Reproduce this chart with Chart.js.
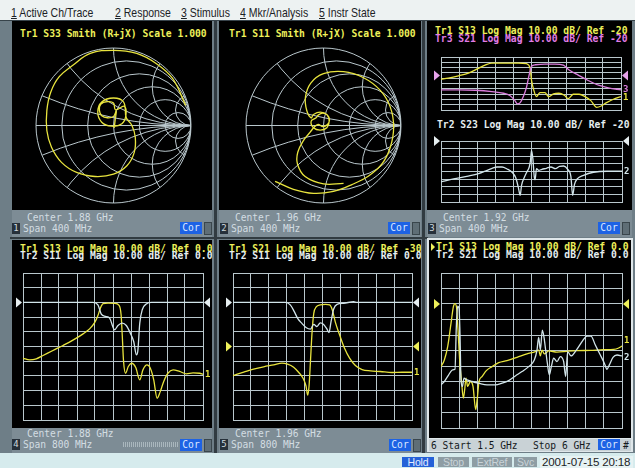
<!DOCTYPE html>
<html>
<head>
<meta charset="utf-8">
<script src="https://cdn.jsdelivr.net/npm/chart.js@4/dist/chart.umd.min.js"></script>
<style>
html,body{margin:0;padding:0;}
body{width:635px;height:468px;position:relative;overflow:hidden;background:#6e7e87;font-family:'DejaVu Sans Mono',monospace;}
.a{position:absolute;}
#menu{left:0;top:0;width:635px;height:20px;background:#edf2f2;border-bottom:1px solid #37434a;font-family:'Liberation Sans',Arial,sans-serif;font-size:12.2px;color:#1c2226;}
.mi{position:absolute;top:7px;line-height:12px;white-space:nowrap;transform:scaleX(0.86);transform-origin:0 0;}
.blk{position:absolute;background:#000;overflow:hidden;}
.t{position:absolute;white-space:nowrap;font-size:9.7px;line-height:8px;font-weight:bold;}
.foot{position:absolute;background:#7d8c95;overflow:hidden;}
.ft{position:absolute;white-space:nowrap;font-size:9.6px;line-height:8px;color:#d3dde2;}
.num{position:absolute;width:8px;height:11px;background:#26303a;color:#cfd9de;font-size:9px;line-height:11px;text-align:center;}
.cor{position:absolute;width:22px;height:12px;background:#1d62e4;color:#dce8ff;font-size:9.6px;line-height:12px;text-align:center;}
.sq{position:absolute;width:6px;height:11px;background:#5f6e76;border:1px solid #3a464c;}
.sep{position:absolute;background:#313b41;}
#status{left:0;top:453px;width:635px;height:15px;background:#d6ebed;font-family:'Liberation Sans',Arial,sans-serif;}
.sb{position:absolute;top:4px;height:10px;font-size:10.5px;line-height:10px;text-align:center;letter-spacing:-0.2px;}
canvas{position:absolute;}
</style>
</head>
<body>
<div id="menu" class="a">
  <span class="mi" style="left:11px"><u>1</u> Active Ch/Trace</span>
  <span class="mi" style="left:115px"><u>2</u> Response</span>
  <span class="mi" style="left:181px"><u>3</u> Stimulus</span>
  <span class="mi" style="left:240px"><u>4</u> Mkr/Analysis</span>
  <span class="mi" style="left:319px"><u>5</u> Instr State</span>
</div>

<!-- frame separators -->
<div class="sep" style="left:214px;top:21px;width:3px;height:432px"></div>
<div class="sep" style="left:422px;top:21px;width:3px;height:432px"></div>
<div class="sep" style="left:10px;top:237px;width:418px;height:2px"></div>

<!-- channel 1 -->
<div class="blk" style="left:12px;top:21px;width:200px;height:189px">
  <div class="t" style="left:8px;top:9px;color:#eef05a">Tr1 S33 Smith (R+jX) Scale 1.000</div>
</div>
<div class="foot" style="left:12px;top:210px;width:200px;height:27px">
  <div class="ft" style="left:15px;top:4px">Center 1.88 GHz</div>
  <div class="num" style="left:0;top:13px">1</div>
  <div class="ft" style="left:11px;top:15px">Span 400 MHz</div>
  <div class="cor" style="left:168px;top:12px">Cor</div>
  <div class="sq" style="left:192px;top:12px"></div>
</div>

<!-- channel 2 -->
<div class="blk" style="left:219px;top:21px;width:202px;height:189px">
  <div class="t" style="left:10px;top:9px;color:#eef05a">Tr1 S11 Smith (R+jX) Scale 1.000</div>
</div>
<div class="foot" style="left:219px;top:210px;width:202px;height:27px">
  <div class="ft" style="left:16px;top:4px">Center 1.96 GHz</div>
  <div class="num" style="left:1px;top:13px">2</div>
  <div class="ft" style="left:12px;top:15px">Span 400 MHz</div>
  <div class="cor" style="left:169px;top:12px">Cor</div>
  <div class="sq" style="left:193px;top:12px"></div>
</div>

<!-- channel 3 -->
<div class="blk" style="left:427px;top:21px;width:205px;height:189px">
  <div class="t" style="left:8px;top:6px;color:#eef05a">Tr1 S13 Log Mag 10.00 dB/ Ref -20</div>
  <div class="t" style="left:8px;top:13.5px;color:#e27ce6">Tr3 S21 Log Mag 10.00 dB/ Ref -20</div>
  <div class="t" style="left:10px;top:100px;color:#e6eef0">Tr2 S23 Log Mag 10.00 dB/ Ref -20</div>
</div>
<div class="foot" style="left:427px;top:210px;width:205px;height:27px">
  <div class="ft" style="left:16px;top:4px">Center 1.92 GHz</div>
  <div class="num" style="left:1px;top:13px">3</div>
  <div class="ft" style="left:12px;top:15px">Span 400 MHz</div>
  <div class="cor" style="left:171px;top:12px">Cor</div>
  <div class="sq" style="left:195px;top:12px"></div>
</div>

<!-- channel 4 -->
<div class="blk" style="left:12px;top:240px;width:200px;height:188px">
  <div class="t" style="left:8px;top:4.5px;color:#eef05a">Tr1 S13 Log Mag 10.00 dB/ Ref 0.0</div>
  <div class="t" style="left:8px;top:12.2px;color:#e6eef0">Tr2 S11 Log Mag 10.00 dB/ Ref 0.0</div>
</div>
<div class="foot" style="left:12px;top:428px;width:200px;height:25px">
  <div class="ft" style="left:15px;top:2px">Center 1.88 GHz</div>
  <div class="num" style="left:0;top:11px">4</div>
  <div class="ft" style="left:11px;top:12.5px">Span 800 MHz</div>
  <div class="a" style="left:111px;top:14px;width:55px;height:5px;background:repeating-linear-gradient(90deg,#aab7bd 0 1px,transparent 1px 2px)"></div>
  <div class="cor" style="left:168px;top:11px">Cor</div>
  <div class="sq" style="left:192px;top:11px"></div>
</div>

<!-- channel 5 -->
<div class="blk" style="left:219px;top:240px;width:202px;height:188px">
  <div class="t" style="left:10px;top:4.5px;color:#eef05a">Tr1 S21 Log Mag 10.00 dB/ Ref -30</div>
  <div class="t" style="left:10px;top:12.2px;color:#e6eef0">Tr2 S11 Log Mag 10.00 dB/ Ref 0.0</div>
</div>
<div class="foot" style="left:219px;top:428px;width:202px;height:25px">
  <div class="ft" style="left:16px;top:2px">Center 1.96 GHz</div>
  <div class="num" style="left:1px;top:11px">5</div>
  <div class="ft" style="left:12px;top:12.5px">Span 800 MHz</div>
  <div class="cor" style="left:170px;top:11px">Cor</div>
  <div class="sq" style="left:194px;top:11px"></div>
</div>

<!-- channel 6 (active) -->
<div class="a" style="left:427px;top:238px;width:206px;height:214px;background:#dfe7ea"></div>
<div class="blk" style="left:429px;top:240px;width:202px;height:198px">
  <div class="a" style="left:2px;top:3px;width:0;height:0;border-top:4px solid transparent;border-bottom:4px solid transparent;border-left:4px solid #eef05a"></div>
  <div class="t" style="left:7px;top:3px;color:#eef05a">Tr1 S13 Log Mag 10.00 dB/ Ref 0.0</div>
  <div class="t" style="left:7px;top:11.2px;color:#e6eef0">Tr2 S21 Log Mag 10.00 dB/ Ref 0.0</div>
</div>
<div class="a" style="left:429px;top:439px;width:202px;height:12px;background:#c9d2d6;overflow:hidden">
  <div class="ft" style="left:2px;top:2.5px;color:#15191c">6 Start 1.5 GHz</div>
  <div class="ft" style="left:104px;top:2.5px;color:#15191c">Stop 6 GHz</div>
  <div class="cor" style="left:169px;top:0;height:11px;line-height:11px">Cor</div>
  <div class="ft" style="left:194px;top:2.5px;color:#15191c">#</div>
</div>

<div id="status" class="a">
  <div class="sb" style="left:402px;width:32px;background:#2461d8;color:#e2ebff">Hold</div>
  <div class="sb" style="left:438px;width:31px;background:#8e9da4;color:#c9d3d8">Stop</div>
  <div class="sb" style="left:472px;width:40px;background:#8e9da4;color:#c9d3d8">ExtRef</div>
  <div class="sb" style="left:514px;width:23px;background:#8e9da4;color:#c9d3d8">Svc</div>
  <div class="sb" style="left:540px;width:93px;top:3px;height:12px;line-height:12px;font-size:11.6px;color:#1d2326;background:#e6f2f3;text-align:left;padding-left:2px;box-sizing:border-box">2001-07-15 20:18</div>
</div>

<canvas id="ch1" width="161" height="161" style="left:33px;top:45px"></canvas>
<canvas id="ch2" width="161" height="161" style="left:243px;top:45px"></canvas>
<canvas id="ch3a" width="203" height="76" style="left:428px;top:42px"></canvas>
<canvas id="ch3b" width="203" height="80" style="left:428px;top:130px"></canvas>
<canvas id="ch4" width="200" height="166" style="left:12px;top:262px"></canvas>
<canvas id="ch5" width="202" height="166" style="left:219px;top:262px"></canvas>
<canvas id="ch6" width="202" height="176" style="left:429px;top:262px"></canvas>

<script>
// ---- Stimulus settings (GHz) ----
const ch3Center = 1.92, ch3Span = 0.4;
const ch4Center = 1.88, ch4Span = 0.8;
const ch5Center = 1.96, ch5Span = 0.8;
const ch6Start = 1.5, ch6Stop = 6.0;

// ---- Channel 1: S33 on Smith chart (reflection coefficient, real / imaginary) ----
const s33Re = [0.931,0.76,0.55,0.30,0.00,-0.30,-0.52,-0.70,-0.81,-0.86,-0.86,-0.80,-0.671,-0.476,-0.238,0.000,0.173,0.268,0.281,0.238,0.165,
  0.130,0.000,-0.152,-0.203,-0.152,-0.022,0.108,0.160,0.139,
  0.026,0.000,-0.078,-0.165,-0.182,-0.152,-0.078,0.000,0.035,0.022,0.009];
const s33Im = [0.260,0.61,0.80,0.93,0.97,0.93,0.78,0.63,0.43,0.195,-0.065,-0.281,-0.476,-0.606,-0.658,-0.628,-0.519,-0.346,-0.152,0.000,0.100,
  0.303,0.355,0.303,0.173,0.043,-0.009,0.022,0.130,0.247,
  0.203,0.290,0.307,0.273,0.195,0.126,0.100,0.117,0.186,0.074,-0.030];

// ---- Channel 2: S11 on Smith chart ----
const s11SmithRe = [-0.625,-0.388,-0.129,0.129,0.366,0.582,0.754,0.862,0.905,0.862,0.733,0.517,0.259,0.000,-0.164,-0.233,-0.216,-0.159,
  -0.129,-0.043,0.043,0.073,0.043,-0.043,-0.129,-0.159,
  -0.095,-0.069,-0.009,0.052,0.078,0.052,-0.009,-0.069,-0.121,-0.172,-0.259,-0.332,-0.336,-0.237,0.000,0.259];
const s11SmithIm = [-0.720,-0.823,-0.875,-0.849,-0.763,-0.651,-0.496,-0.280,-0.022,0.237,0.453,0.616,0.694,0.668,0.547,0.366,0.194,0.099,
  0.142,0.172,0.142,0.056,-0.030,-0.060,-0.030,0.056,
  0.099,0.134,0.159,0.134,0.073,0.013,-0.013,0.013,-0.022,-0.086,-0.194,-0.345,-0.496,-0.659,-0.754,-0.746];

// ---- Channel 3: log magnitude (GHz / dB) ----
const ch3FreqS13 = [1.720,1.736,1.759,1.781,1.803,1.818,1.833,1.862,1.892,1.910,1.918,1.921,1.926,1.932,1.940,1.951,1.959,1.970,1.982,1.994,2.003,2.014,2.027,2.040,2.053,2.066,2.076,2.088,2.103,2.120];
const ch3S13 = [-26.8,-24.9,-20.4,-15.4,-6.5,-0.2,3.6,3.6,3.6,2.3,-5.9,-28.0,-47.0,-59.7,-52.1,-52.1,-59.7,-54.6,-53.4,-57.2,-63.5,-55.3,-55.3,-59.7,-67.3,-79.9,-77.4,-71.1,-64.7,-59.7];
const ch3FreqS21 = [1.720,1.759,1.796,1.833,1.859,1.873,1.883,1.890,1.896,1.903,1.910,1.916,1.921,1.930,1.951,1.973,1.992,2.004,2.025,2.047,2.070,2.092,2.120];
const ch3S21 = [-47.0,-47.0,-47.7,-50.2,-53.4,-57.8,-66.0,-73.6,-71.1,-59.7,-42.0,-18.5,-2.7,0.4,1.7,1.7,-0.2,-9.1,-19.2,-29.3,-38.2,-43.2,-47.0];
const ch3FreqS23 = [1.720,1.748,1.777,1.803,1.822,1.833,1.844,1.855,1.866,1.877,1.885,1.891,1.895,1.898,1.904,1.910,1.915,1.918,1.920,1.923,1.926,1.928,1.931,1.936,1.943,1.953,1.963,1.973,1.982,1.991,2.000,2.007,2.011,2.015,2.021,2.035,2.057,2.087,2.120];
const ch3S23 = [-73.7,-69.8,-66.3,-62.8,-58.4,-55.8,-54.1,-54.1,-56.7,-61.0,-68.0,-81.1,-91.2,-78.1,-68.0,-60.2,-54.1,-44.5,-32.2,-43.1,-66.3,-70.7,-56.2,-58.4,-57.1,-55.8,-54.1,-56.2,-53.2,-52.8,-57.1,-66.3,-91.2,-76.8,-69.8,-65.0,-61.0,-59.7,-59.7];

// ---- Channel 4 ----
const ch4FreqS13 = [1.480,1.510,1.539,1.569,1.613,1.658,1.702,1.747,1.776,1.799,1.813,1.824,1.836,1.858,1.887,1.907,1.916,1.921,1.927,1.936,1.948,1.963,1.981,1.999,2.013,2.031,2.046,2.061,2.076,2.090,2.105,2.124,2.147,2.176,2.206,2.236,2.265,2.280];
const ch4S13 = [-38.0,-39.1,-38.4,-36.1,-32.7,-29.3,-25.7,-21.4,-18.0,-13.6,-8.9,-3.9,-0.9,-0.5,-0.7,-2.0,-8.4,-22.0,-40.2,-48.2,-43.6,-41.4,-44.3,-52.7,-45.9,-42.5,-44.8,-52.7,-65.2,-60.7,-53.9,-48.2,-45.9,-47.0,-48.6,-48.0,-48.2,-48.9];
const ch4FreqS11 = [1.480,1.791,1.813,1.828,1.847,1.865,1.887,1.902,1.921,1.939,1.957,1.972,1.984,1.990,1.999,2.010,2.028,2.050,2.280];
const ch4S11 = [0.0,0.0,-1.6,-8.0,-9.5,-10.7,-18.6,-15.7,-14.1,-15.7,-20.9,-26.6,-35.7,-33.4,-14.1,-5.0,-1.1,0.0,0.0];

// ---- Channel 5 ----
const ch5FreqS21 = [1.560,1.608,1.652,1.697,1.742,1.779,1.804,1.831,1.853,1.873,1.886,1.894,1.900,1.906,1.913,1.921,1.932,1.950,1.973,1.992,2.004,2.017,2.037,2.058,2.081,2.107,2.137,2.174,2.218,2.271,2.315,2.360];
const ch5S21 = [-49.8,-47.5,-45.4,-43.8,-42.5,-41.3,-42.0,-44.1,-47.5,-51.6,-56.7,-63.1,-56.7,-40.6,-21.2,-7.5,-3.1,-1.7,-1.3,-1.7,-5.2,-13.2,-22.3,-31.0,-37.9,-42.9,-45.7,-46.6,-47.0,-47.7,-47.5,-47.5];
const ch5FreqS11 = [1.560,1.794,1.816,1.834,1.849,1.868,1.888,1.906,1.921,1.935,1.950,1.965,1.980,1.989,1.998,2.010,2.025,2.055,2.099,2.114,2.360];
const ch5S11 = [0.0,0.0,-1.7,-6.3,-10.9,-14.3,-17.3,-18.2,-15.0,-16.4,-13.9,-15.0,-18.2,-20.5,-13.2,-4.5,-1.3,-0.6,0.5,0.0,0.0];

// ---- Channel 6 ----
const ch6FreqS13 = [1.500,1.583,1.666,1.749,1.807,1.848,1.890,1.923,1.964,2.014,2.055,2.088,2.122,2.163,2.229,2.296,2.362,2.403,2.445,2.519,2.627,2.768,2.934,3.141,3.390,3.638,3.845,3.928,3.970,4.011,4.069,4.177,4.384,4.633,4.881,5.213,5.544,5.793,5.917,6.000];
const ch6S13 = [-40.4,-36.1,-27.5,-12.5,-1.8,0.3,-2.9,-16.8,-36.1,-51.1,-60.7,-55.4,-47.9,-53.2,-50.0,-53.2,-68.2,-60.7,-50.0,-46.8,-43.0,-40.4,-37.8,-36.5,-34.4,-32.2,-30.7,-29.7,-33.5,-29.7,-32.2,-30.3,-31.0,-30.5,-30.1,-29.9,-29.5,-29.3,-28.4,-27.1];
const ch6FreqS21 = [1.500,1.583,1.691,1.790,1.848,1.881,1.914,1.948,1.972,1.997,2.030,2.072,2.146,2.271,2.436,2.644,2.851,3.017,3.182,3.348,3.514,3.680,3.820,3.887,3.928,3.970,4.019,4.061,4.102,4.144,4.193,4.243,4.301,4.384,4.467,4.550,4.599,4.649,4.732,4.865,5.006,5.130,5.229,5.337,5.461,5.561,5.627,5.685,5.776,5.876,6.000];
const ch6S21 = [-52.2,-50.0,-45.7,-42.5,-42.1,-14.7,-1.4,-2.9,-19.0,-49.0,-53.2,-47.9,-49.0,-50.0,-51.1,-52.2,-52.2,-51.1,-49.4,-46.4,-43.6,-40.4,-36.1,-29.7,-21.5,-29.7,-16.8,-21.5,-29.7,-38.2,-45.7,-40.4,-35.0,-37.2,-33.9,-37.2,-46.8,-30.7,-33.5,-29.7,-24.3,-20.7,-20.7,-26.5,-32.9,-38.2,-42.1,-39.3,-34.4,-32.9,-33.5];

// ---- Smith chart grid values ----
const smithResistance = [0.2, 0.5, 1, 2, 5];
const smithReactance = [0.2, 0.5, 1, 2, 5];

// ---- Colours ----
const YELLOW = '#e8e43e', WHITE = '#d2e5ea', MAGENTA = '#da7cdc', GRID = '#b9c7cc';

function divisions(lo, hi, n) {
  const out = [];
  for (let i = 0; i <= n; i++) out.push({ value: lo + (hi - lo) * i / n });
  return out;
}

// Reference-level triangles and trace-number labels beside the graticule
const traceMarks = {
  id: 'traceMarks',
  afterDatasetsDraw(chart, args, o) {
    const { ctx, chartArea: a, scales: { y } } = chart;
    ctx.save();
    (o.refs || []).forEach(m => {
      const py = y.getPixelForValue(m.value);
      ctx.fillStyle = m.color;
      ctx.beginPath(); ctx.moveTo(a.left - 7, py - 5); ctx.lineTo(a.left - 1, py); ctx.lineTo(a.left - 7, py + 5); ctx.closePath(); ctx.fill();
      ctx.beginPath(); ctx.moveTo(a.right + 7, py - 5); ctx.lineTo(a.right + 1, py); ctx.lineTo(a.right + 7, py + 5); ctx.closePath(); ctx.fill();
    });
    (o.labels || []).forEach(l => {
      const d = chart.data.datasets[l.dataset].data;
      const py = y.getPixelForValue(d[d.length - 1].y) + (l.dy || 0);
      ctx.fillStyle = l.color;
      ctx.font = 'bold 9px "DejaVu Sans Mono"';
      ctx.textBaseline = 'middle';
      ctx.fillText(l.text, a.right + 2, py);
    });
    ctx.restore();
  }
};

function logMagChart(id, cfg) {
  const axis = (lo, hi, n) => ({
    type: 'linear', min: lo, max: hi,
    ticks: { display: false },
    grid: { color: GRID, lineWidth: 1, drawTicks: false },
    border: { color: GRID },
    afterBuildTicks: s => { s.ticks = divisions(lo, hi, n); }
  });
  return new Chart(document.getElementById(id), {
    type: 'line',
    data: {
      datasets: cfg.traces.map(t => ({
        data: t.freq.map((f, i) => ({ x: f, y: t.db[i] })),
        borderColor: t.color, borderWidth: 1.3, pointRadius: 0,
        cubicInterpolationMode: 'monotone', fill: false
      }))
    },
    options: {
      responsive: false, animation: false, events: [],
      layout: { padding: cfg.pad },
      scales: { x: axis(cfg.fMin, cfg.fMax, 10), y: axis(cfg.bottom, cfg.top, cfg.rows) },
      plugins: { legend: { display: false }, tooltip: { enabled: false },
        traceMarks: { refs: cfg.refs, labels: cfg.labels } }
    },
    plugins: [traceMarks]
  });
}

// Smith chart graticule: constant-resistance circles and constant-reactance arcs
const smithGrid = {
  id: 'smithGrid',
  beforeDatasetsDraw(chart) {
    const { ctx, scales: { x, y } } = chart;
    const cx = x.getPixelForValue(0), cy = y.getPixelForValue(0);
    const R = x.getPixelForValue(1) - cx;
    ctx.save();
    ctx.strokeStyle = GRID; ctx.lineWidth = 1;
    ctx.beginPath(); ctx.arc(cx, cy, R, 0, Math.PI * 2); ctx.stroke();
    ctx.beginPath(); ctx.arc(cx, cy, R, 0, Math.PI * 2); ctx.clip();
    ctx.beginPath(); ctx.moveTo(cx - R, cy); ctx.lineTo(cx + R, cy); ctx.stroke();
    smithResistance.forEach(r => {
      ctx.beginPath(); ctx.arc(cx + R * r / (1 + r), cy, R / (1 + r), 0, Math.PI * 2); ctx.stroke();
    });
    smithReactance.forEach(v => {
      [1, -1].forEach(s => {
        ctx.beginPath(); ctx.arc(cx + R, cy - s * R / v, R / v, 0, Math.PI * 2); ctx.stroke();
      });
    });
    ctx.restore();
  }
};

function smithChart(id, re, im) {
  return new Chart(document.getElementById(id), {
    type: 'scatter',
    data: { datasets: [{
      data: re.map((r, i) => ({ x: r, y: im[i] })),
      showLine: true, borderColor: YELLOW, borderWidth: 1.3, pointRadius: 0, tension: 0.4
    }] },
    options: {
      responsive: false, animation: false, events: [],
      layout: { padding: 3 },
      scales: { x: { min: -1, max: 1, display: false }, y: { min: -1, max: 1, display: false } },
      plugins: { legend: { display: false }, tooltip: { enabled: false } }
    },
    plugins: [smithGrid]
  });
}

smithChart('ch1', s33Re, s33Im);
smithChart('ch2', s11SmithRe, s11SmithIm);

logMagChart('ch3a', {
  fMin: ch3Center - ch3Span / 2, fMax: ch3Center + ch3Span / 2, top: 15, bottom: -85, rows: 10,
  pad: { left: 13, right: 10, top: 15, bottom: 8 },
  traces: [{ freq: ch3FreqS21, db: ch3S21, color: MAGENTA }, { freq: ch3FreqS13, db: ch3S13, color: YELLOW }],
  refs: [{ value: -20, color: '#e6a2ea' }],
  labels: [{ dataset: 0, text: '3', color: MAGENTA }, { dataset: 1, text: '1', color: YELLOW, dy: 1 }]
});
logMagChart('ch3b', {
  fMin: ch3Center - ch3Span / 2, fMax: ch3Center + ch3Span / 2, top: -20, bottom: -100, rows: 8,
  pad: { left: 13, right: 9, top: 11, bottom: 8 },
  traces: [{ freq: ch3FreqS23, db: ch3S23, color: WHITE }],
  refs: [{ value: -20, color: '#e6eef0' }],
  labels: [{ dataset: 0, text: '2', color: WHITE }]
});
logMagChart('ch4', {
  fMin: ch4Center - ch4Span / 2, fMax: ch4Center + ch4Span / 2, top: 20, bottom: -80, rows: 10,
  pad: { left: 11, right: 9, top: 11, bottom: 8 },
  traces: [{ freq: ch4FreqS11, db: ch4S11, color: WHITE }, { freq: ch4FreqS13, db: ch4S13, color: YELLOW }],
  refs: [{ value: 0, color: '#e6eef0' }],
  labels: [{ dataset: 1, text: '1', color: YELLOW }]
});
logMagChart('ch5', {
  fMin: ch5Center - ch5Span / 2, fMax: ch5Center + ch5Span / 2, top: 20, bottom: -80, rows: 10,
  pad: { left: 14, right: 9, top: 11, bottom: 8 },
  traces: [{ freq: ch5FreqS11, db: ch5S11, color: WHITE }, { freq: ch5FreqS21, db: ch5S21, color: YELLOW }],
  refs: [{ value: 0, color: '#e6eef0' }, { value: -30, color: '#eef05a' }],
  labels: [{ dataset: 1, text: '1', color: YELLOW }]
});
logMagChart('ch6', {
  fMin: ch6Start, fMax: ch6Stop, top: 20, bottom: -80, rows: 10,
  pad: { left: 12, right: 9, top: 11, bottom: 10 },
  traces: [{ freq: ch6FreqS21, db: ch6S21, color: WHITE }, { freq: ch6FreqS13, db: ch6S13, color: YELLOW }],
  refs: [{ value: 0, color: '#eef05a' }],
  labels: [{ dataset: 1, text: '1', color: YELLOW, dy: -5 }, { dataset: 0, text: '2', color: WHITE, dy: 2 }]
});
</script>
</body>
</html>
